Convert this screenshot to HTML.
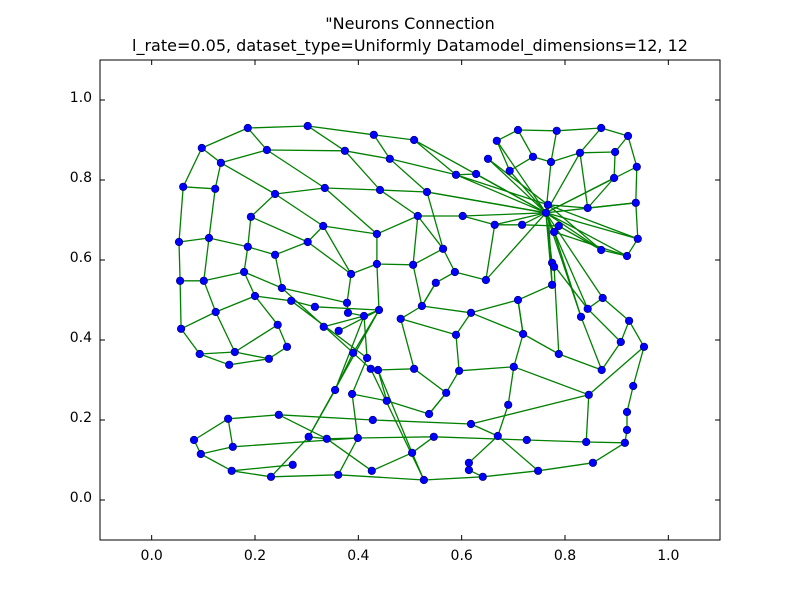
<!DOCTYPE html>
<html>
<head>
<meta charset="utf-8">
<style>
  html, body { margin: 0; padding: 0; background: #ffffff; }
  svg { display: block; font-family: "DejaVu Sans", "Liberation Sans", sans-serif; }
</style>
</head>
<body>
<svg id="chart" width="800" height="600" viewBox="0 0 800 600">
  <rect x="0" y="0" width="800" height="600" fill="#ffffff"></rect>
  <text x="410" y="29" text-anchor="middle" font-size="16" fill="#000">"Neurons Connection</text>
  <text x="410" y="51" text-anchor="middle" font-size="16" fill="#000">l_rate=0.05, dataset_type=Uniformly Datamodel_dimensions=12, 12</text>
  <g id="links"></g>
  <g id="nodes"></g>
  <rect x="100" y="60" width="620" height="480" fill="none" stroke="#000" stroke-width="1"></rect>
  <g id="xticks"></g>
  <g id="yticks"></g>
</svg>
<script>
const xTickValues = [0.0, 0.2, 0.4, 0.6, 0.8, 1.0];
const yTickValues = [0.0, 0.2, 0.4, 0.6, 0.8, 1.0];
const xTickLabels = ["0.0", "0.2", "0.4", "0.6", "0.8", "1.0"];
const yTickLabels = ["0.0", "0.2", "0.4", "0.6", "0.8", "1.0"];
const nodeX = [0.186,0.302,0.430,0.508,0.097,0.223,0.374,0.461,0.589,0.134,
0.061,0.123,0.239,0.335,0.442,0.533,0.192,0.332,0.436,0.515,
0.053,0.111,0.186,0.302,0.239,0.436,0.506,0.564,0.386,0.055,
0.101,0.179,0.550,0.587,0.252,0.200,0.270,0.316,0.378,0.380,
0.411,0.440,0.523,0.482,0.124,0.057,0.244,0.333,0.362,0.589,
0.262,0.093,0.161,0.150,0.227,0.390,0.417,0.424,0.438,0.508,
0.709,0.784,0.870,0.922,0.668,0.651,0.738,0.773,0.829,0.897,
0.693,0.939,0.628,0.895,0.767,0.844,0.937,0.602,0.664,0.717,
0.763,0.788,0.779,0.941,0.870,0.920,0.647,0.775,0.779,0.775,
0.709,0.618,0.873,0.844,0.831,0.924,0.719,0.908,0.953,0.788,
0.595,0.701,0.871,0.932,0.355,0.388,0.455,0.570,0.537,0.148,
0.246,0.428,0.082,0.304,0.339,0.399,0.546,0.157,0.095,0.504,
0.273,0.155,0.426,0.231,0.361,0.527,0.690,0.846,0.618,0.920,
0.920,0.670,0.726,0.841,0.916,0.614,0.614,0.641,0.748,0.854];
const nodeY = [0.930,0.935,0.913,0.900,0.880,0.875,0.873,0.853,0.813,0.843,
0.783,0.778,0.765,0.780,0.775,0.770,0.708,0.685,0.665,0.710,
0.645,0.655,0.633,0.645,0.613,0.590,0.588,0.628,0.565,0.548,
0.548,0.570,0.543,0.570,0.530,0.510,0.498,0.483,0.493,0.468,
0.460,0.475,0.485,0.453,0.470,0.428,0.438,0.433,0.423,0.413,
0.383,0.365,0.370,0.338,0.353,0.368,0.355,0.328,0.325,0.328,
0.925,0.923,0.930,0.910,0.898,0.853,0.858,0.845,0.868,0.870,
0.823,0.833,0.815,0.805,0.738,0.730,0.743,0.710,0.688,0.688,
0.718,0.685,0.670,0.653,0.625,0.610,0.550,0.593,0.583,0.538,
0.500,0.468,0.505,0.478,0.458,0.448,0.415,0.395,0.383,0.365,
0.323,0.333,0.325,0.285,0.275,0.265,0.248,0.268,0.215,0.203,
0.213,0.200,0.150,0.158,0.153,0.155,0.158,0.133,0.115,0.118,
0.088,0.073,0.073,0.058,0.063,0.050,0.238,0.263,0.190,0.220,
0.175,0.160,0.150,0.145,0.143,0.093,0.075,0.058,0.073,0.093];
const links = [
[4,0],[0,1],[1,2],[2,3],[3,8],[3,80],[4,10],[0,5],[1,6],[2,7],
[9,5],[5,6],[6,7],[7,8],[8,80],[4,9],[10,11],[10,20],[11,21],[9,11],
[9,12],[12,13],[13,14],[14,15],[15,80],[5,13],[6,14],[7,15],[12,16],[16,23],
[23,17],[17,18],[18,19],[19,77],[13,18],[14,19],[15,27],[20,29],[29,45],[21,30],
[30,44],[44,52],[20,21],[29,30],[45,51],[51,52],[51,53],[53,54],[52,54],[52,46],
[46,50],[50,54],[44,45],[44,35],[35,46],[35,36],[31,35],[31,34],[30,31],[21,22],
[22,24],[24,23],[22,16],[22,31],[24,34],[23,28],[28,25],[25,26],[26,27],[27,19],
[36,37],[37,41],[36,56],[34,57],[28,38],[38,39],[39,40],[47,40],[48,41],[40,41],
[41,55],[40,56],[42,43],[42,32],[43,59],[59,58],[58,57],[43,49],[55,104],[104,113],
[113,123],[56,105],[105,115],[115,124],[58,106],[106,108],[105,106],[59,107],[107,108],[109,110],
[109,112],[109,117],[112,118],[118,117],[118,121],[121,123],[121,120],[110,114],[114,122],[114,115],
[113,114],[123,124],[124,125],[122,119],[119,125],[116,119],[110,111],[111,128],[125,137],[137,138],
[138,139],[139,134],[117,115],[115,116],[116,132],[132,133],[133,134],[57,125],[58,119],[113,41],
[104,40],[42,91],[91,90],[91,49],[91,96],[96,99],[99,102],[96,90],[96,101],[100,49],
[100,101],[101,126],[100,107],[107,108],[101,127],[127,98],[127,133],[97,102],[95,97],[95,98],
[98,103],[103,129],[129,130],[130,134],[126,131],[131,135],[131,138],[135,136],[136,137],[128,127],
[128,131],[92,95],[93,97],[94,102],[60,61],[61,62],[62,63],[64,60],[64,70],[70,66],
[66,67],[67,68],[68,69],[69,63],[63,71],[71,76],[76,83],[83,85],[85,84],[69,73],
[60,66],[61,67],[62,68],[80,65],[80,70],[80,67],[80,68],[80,73],[80,71],[74,75],
[80,76],[80,83],[80,84],[80,85],[80,72],[80,15],[80,77],[80,78],[80,79],[80,86],
[80,87],[80,89],[80,92],[80,93],[80,94],[80,64],[74,65],[74,8],[74,83],[74,84],
[73,75],[75,76],[68,75],[77,78],[78,79],[79,81],[81,84],[82,85],[8,72],[27,33],
[33,86],[33,32],[32,42],[86,78],[90,89],[90,96],[88,99],[92,93],[26,42],[18,25],
[19,26],[17,28],[25,41],[34,38],[12,17],[74,89],[82,94],[87,93]
];

const svgNS = "http://www.w3.org/2000/svg";
const X0 = 100, X1 = 720, Y0 = 540, Y1 = 60;
const xMin = -0.1, xMax = 1.1, yMin = -0.1, yMax = 1.1;
function sx(v) { return X0 + (v - xMin) / (xMax - xMin) * (X1 - X0); }
function sy(v) { return Y0 - (v - yMin) / (yMax - yMin) * (Y0 - Y1); }

const gL = document.getElementById('links');
links.forEach(function (p) {
  const l = document.createElementNS(svgNS, 'line');
  l.setAttribute('x1', sx(nodeX[p[0]]).toFixed(1));
  l.setAttribute('y1', sy(nodeY[p[0]]).toFixed(1));
  l.setAttribute('x2', sx(nodeX[p[1]]).toFixed(1));
  l.setAttribute('y2', sy(nodeY[p[1]]).toFixed(1));
  l.setAttribute('stroke', '#008000');
  l.setAttribute('stroke-width', '1.3');
  
  
  gL.appendChild(l);
});

const gN = document.getElementById('nodes');
nodeX.forEach(function (x, i) {
  const c = document.createElementNS(svgNS, 'circle');
  c.setAttribute('cx', sx(x).toFixed(1));
  c.setAttribute('cy', sy(nodeY[i]).toFixed(1));
  c.setAttribute('r', '3.8');
  c.setAttribute('fill', '#0000ff');
  c.setAttribute('stroke', '#000066');
  c.setAttribute('stroke-width', '0.6');
  
  
  gN.appendChild(c);
});

const gX = document.getElementById('xticks');
xTickValues.forEach(function (v, i) {
  const px = sx(v);
  [[Y0, Y0 - 5], [Y1, Y1 + 5]].forEach(function (seg) {
    const t = document.createElementNS(svgNS, 'line');
    t.setAttribute('x1', px); t.setAttribute('x2', px);
    t.setAttribute('y1', seg[0]); t.setAttribute('y2', seg[1]);
    t.setAttribute('stroke', '#000');
    
    
    gX.appendChild(t);
  });
  const tx = document.createElementNS(svgNS, 'text');
  tx.setAttribute('x', px);
  tx.setAttribute('y', 560);
  tx.setAttribute('text-anchor', 'middle');
  tx.setAttribute('font-size', '14');
  tx.textContent = xTickLabels[i];
  
  
  gX.appendChild(tx);
});

const gY = document.getElementById('yticks');
yTickValues.forEach(function (v, i) {
  const py = sy(v);
  [[X0, X0 + 5], [X1, X1 - 5]].forEach(function (seg) {
    const t = document.createElementNS(svgNS, 'line');
    t.setAttribute('y1', py); t.setAttribute('y2', py);
    t.setAttribute('x1', seg[0]); t.setAttribute('x2', seg[1]);
    t.setAttribute('stroke', '#000');
    
    
    gY.appendChild(t);
  });
  const ty = document.createElementNS(svgNS, 'text');
  ty.setAttribute('x', 92);
  ty.setAttribute('y', py + 2);
  ty.setAttribute('text-anchor', 'end');
  ty.setAttribute('font-size', '14');
  ty.textContent = yTickLabels[i];
  
  
  gY.appendChild(ty);
});
</script>
</body>
</html>
